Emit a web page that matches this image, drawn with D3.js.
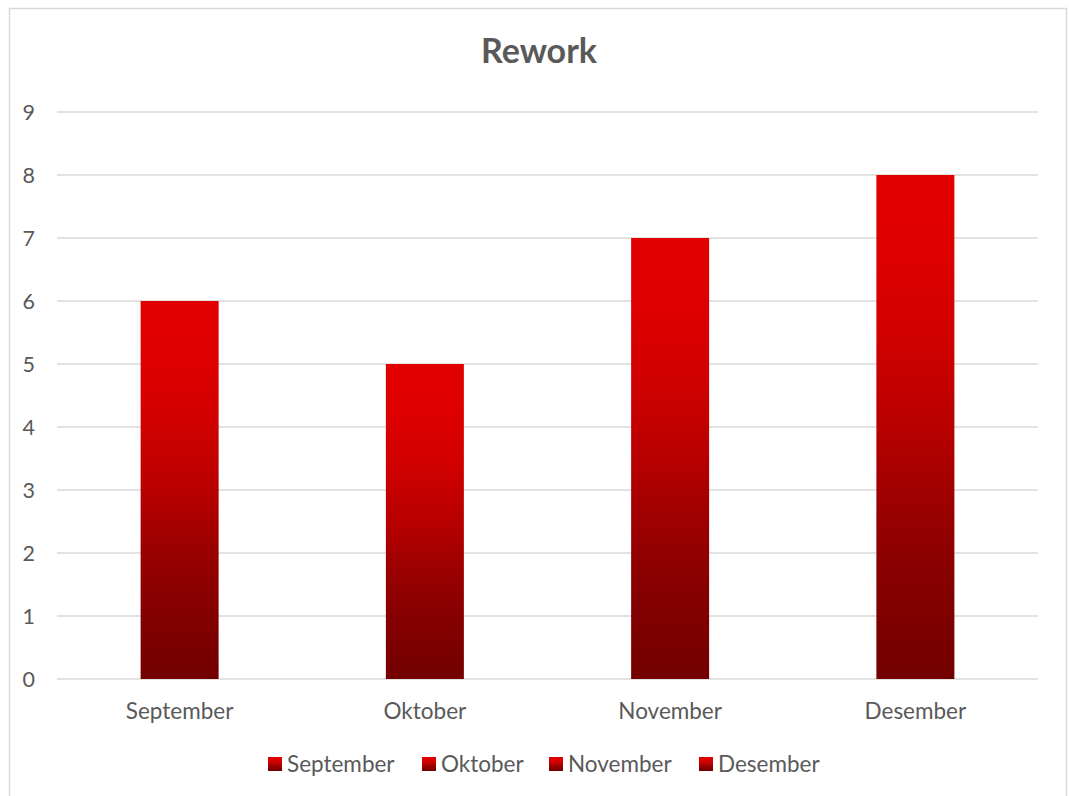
<!DOCTYPE html>
<html><head><meta charset="utf-8">
<script src="https://cdn.jsdelivr.net/npm/d3@7"></script>
<style>html,body{margin:0;padding:0;background:#fff;}svg{display:block;}</style>
</head><body>
<svg id="chart" width="1069" height="796"></svg>
<script>
const categories = ["September", "Oktober", "November", "Desember"];
const values = [6, 5, 7, 8];
const yTicks = [0, 1, 2, 3, 4, 5, 6, 7, 8, 9];
const title = "Rework";

const W = 1069, H = 796;
const svg = d3.select("#chart");
const font = "Lato, 'Open Sans', sans-serif";
const textColor = "#595959";

// frame
svg.append("rect").attr("x", 9.5).attr("y", 8.5).attr("width", 1057).attr("height", 800)
  .attr("fill", "#fff").attr("stroke", "#d9d9d9").attr("stroke-width", 1.5);

const plot = {left: 57, right: 1038, top: 112, bottom: 679};
const x = d3.scaleBand().domain(categories).range([plot.left, plot.right]).paddingInner(0.682).paddingOuter(0.341);
const y = d3.scaleLinear().domain([0, 9]).range([plot.bottom, plot.top]);

const defs = svg.append("defs");
const grad = defs.append("linearGradient").attr("id", "barGrad")
  .attr("x1", 0).attr("y1", 0).attr("x2", 0).attr("y2", 1);
[[0, "#e20000"], [0.15, "#de0000"], [0.3, "#d30000"], [0.5, "#b80000"], [0.65, "#9c0000"], [0.8, "#860000"], [1, "#730000"]]
  .forEach(([o, c]) => grad.append("stop").attr("offset", o).attr("stop-color", c));

// gridlines
svg.append("g").selectAll("line").data(yTicks).join("line")
  .attr("x1", plot.left).attr("x2", plot.right)
  .attr("y1", d => y(d)).attr("y2", d => y(d))
  .attr("stroke", "#d9d9d9").attr("stroke-width", 1.5);

// y labels
svg.append("g").selectAll("text").data(yTicks).join("text")
  .attr("x", 35).attr("y", d => y(d)).attr("dy", "0.36em")
  .attr("text-anchor", "end").attr("font-family", font).attr("font-size", 21.5)
  .attr("fill", textColor).text(d => d);

// bars
svg.append("g").selectAll("rect").data(values).join("rect")
  .attr("x", (d, i) => x(categories[i])).attr("width", x.bandwidth())
  .attr("y", d => y(d)).attr("height", d => y(0) - y(d))
  .attr("fill", "url(#barGrad)");

// x labels
svg.append("g").selectAll("text").data(categories).join("text")
  .attr("x", d => x(d) + x.bandwidth() / 2).attr("y", 711).attr("dy", "0.36em")
  .attr("text-anchor", "middle").attr("font-family", font).attr("font-size", 22.5)
  .attr("fill", textColor).text(d => d);

// title
svg.append("text").attr("x", 539).attr("y", 63).attr("text-anchor", "middle")
  .attr("font-family", font).attr("font-weight", "bold").attr("font-size", 34)
  .attr("fill", textColor).text(title);

// legend
const legendX = [268, 422, 549, 699];
const lg = svg.append("g").selectAll("g").data(categories).join("g")
  .attr("transform", (d, i) => `translate(${legendX[i]},764)`);
lg.append("rect").attr("x", 0).attr("y", -7).attr("width", 14).attr("height", 14).attr("fill", "url(#barGrad)");
lg.append("text").attr("x", 19).attr("y", 0).attr("dy", "0.36em")
  .attr("font-family", font).attr("font-size", 22.5).attr("fill", textColor).text(d => d);
</script>
</body></html>
